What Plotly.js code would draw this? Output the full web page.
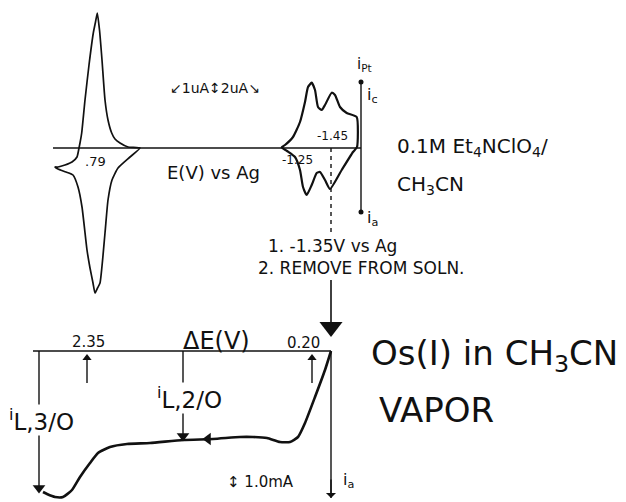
<!DOCTYPE html>
<html><head><meta charset="utf-8">
<script src="https://cdn.plot.ly/plotly-3.0.1.min.js"></script>
<style>html,body{margin:0;padding:0;background:#fff}#plot{width:626px;height:502px}</style>
</head><body><div id="plot"></div>
<script>
// Schematic drawn in a hidden coordinate frame (x: 0-626 right, y: 0-502 downward)
// Upper panel: cyclic voltammogram, E(V) vs Ag
const cvBaseX = [53, 361];
const cvBaseY = [148, 148];
// left wave (.79 V), one closed loop: cathodic branch then anodic branch
const cvLeftX = [140,128,120,115,111.7,108,105,102,99.5,97.3,95.5,93.3,89,85,81.7,80,79,77,72,65,58,55,
                 58,66,73,78,82,87,90,93,95,97.5,100,105,108,112,118,130,140];
const cvLeftY = [148,147,143,139,133,120,100,60,30,13,22,33,65,100,133,143,148,157,162,165,167,167,
                 169,172,175,187,207,250,268,283,293,288,283,233,200,180,168,157,148];
// right waves (-1.25 / -1.45 V)
const cvRightX = [281.7,285,293,300,305,308,311.7,315,318,321.7,325,331.7,335,340,346.7,356.7,357,
                  353,341.7,330,325,320,316.7,311.7,306.7,303,300,295,287,281.7];
const cvRightY = [147.3,145,137,122,102,87,82.7,90,107,110,105,92.7,95,107,113,117,147,
                  152,170,189,180,172,173,185,195,187,170,157,151,147.3];
// current axis i_Pt
const iPtX = [361, 361];
const iPtY = [82, 212];
// potential step marker (-1.35 V)
const dashX = [331, 331];
const dashY = [148, 236];
const stepX = [331, 331];
const stepY = [280, 322];

// Lower panel: linear sweep in vapor, ΔE(V)
const lsBaseX = [33, 331];
const lsBaseY = [351, 351];
const lsCurveX = [331,325,315,305,298,290,280,267,253,240,213,183,150,127,110,98,90,80,72,63,55,47,43];
const lsCurveY = [351,370,397,423,437,442,442,438,437,437,439,440,443,444,447,453,463,477,490,497,497,494,492];
const iaAxisX = [331, 331];
const iaAxisY = [351, 498];
// limiting-current arrows and potential markers
const iL3X = [39, 39];   const iL3Y = [351, 486];
const iL2X = [183, 183]; const iL2Y = [351, 434];
const mk235X = [87, 87];  const mk235Y = [383, 356];
const mk020X = [312, 312]; const mk020Y = [383, 356];

const blk = '#111';
function line(x, y, w, dash) {
  return {x, y, type:'scatter', mode:'lines', line:{color:blk, width:w, dash:dash||'solid', shape:'spline', smoothing:0.5},
          hoverinfo:'skip', showlegend:false};
}
function straight(x, y, w, dash) {
  return {x, y, type:'scatter', mode:'lines', line:{color:blk, width:w, dash:dash||'solid'}, hoverinfo:'skip', showlegend:false};
}
function head(x, y, sym, size) {
  return {x:[x], y:[y], type:'scatter', mode:'markers', marker:{symbol:sym, size, color:blk}, hoverinfo:'skip', showlegend:false};
}

const traces = [
  straight(cvBaseX, cvBaseY, 1.6),
  line(cvLeftX, cvLeftY, 1.7),
  line(cvRightX, cvRightY, 2.2),
  straight(iPtX, iPtY, 1.4),
  {x:iPtX, y:iPtY, type:'scatter', mode:'markers', marker:{size:5, color:blk}, hoverinfo:'skip', showlegend:false},
  straight(dashX, dashY, 1.4, '4px,4px'),
  straight(stepX, stepY, 1.6),
  head(331, 327, 'triangle-down', 20),
  straight(lsBaseX, lsBaseY, 1.6),
  line(lsCurveX, lsCurveY, 2.6),
  head(208, 439, 'triangle-left', 11),
  straight(iaAxisX, iaAxisY, 1.4),
  straight(iL3X, iL3Y, 1.4), head(39, 488, 'triangle-down', 11),
  straight(iL2X, iL2Y, 1.4), head(183, 436, 'triangle-down', 11),
  straight(mk235X, mk235Y, 1.4), head(87, 358, 'triangle-up', 8),
  straight(mk020X, mk020Y, 1.4), head(312, 358, 'triangle-up', 8)
];

const F = 'DejaVu Sans, sans-serif';
function txt(x, y, text, size, bg) {
  return {x, y, text, showarrow:false, xanchor:'left', yanchor:'middle', font:{family:F, size, color:blk},
          bgcolor: bg ? '#fff' : 'rgba(0,0,0,0)', borderpad:0};
}
const annotations = [
  txt(84, 161, '.79', 13),
  txt(166, 172, 'E(V) vs Ag', 18),
  txt(169, 88, '↙1uA↕2uA↘', 14),
  txt(281, 160, '-1.25', 12),
  txt(316, 136, '-1.45', 12),
  txt(356, 64, 'i<sub>Pt</sub>', 15),
  txt(366, 95, 'i<sub>c</sub>', 16),
  txt(366, 218, 'i<sub>a</sub>', 16),
  txt(396, 147, '0.1M Et<sub>4</sub>NClO<sub>4</sub>/', 20),
  txt(396, 185, 'CH<sub>3</sub>CN', 20),
  txt(267, 246, '1. -1.35V vs Ag', 17),
  txt(257, 268, '2. REMOVE FROM SOLN.', 17),
  txt(71, 342, '2.35', 15),
  txt(182, 341, 'ΔE(V)', 24),
  txt(286, 343, '0.20', 15),
  txt(8, 420, '<sup>i</sup>L,3/O', 23, true),
  txt(156, 398, '<sup>i</sup>L,2/O', 23, true),
  txt(226, 482, '↕ 1.0mA', 15),
  txt(342, 480, 'i<sub>a</sub>', 16),
  txt(370, 355, 'Os(I) in CH<sub>3</sub>CN', 34),
  txt(378, 410, 'VAPOR', 34),
  {x:331, y:498, ax:331, ay:478, axref:'x', ayref:'y', xref:'x', yref:'y', text:'', showarrow:true,
   arrowhead:1, arrowsize:1.2, arrowwidth:1.4, arrowcolor:blk}
];

const layout = {
  width:626, height:502, margin:{l:0, r:0, t:0, b:0},
  paper_bgcolor:'#fff', plot_bgcolor:'#fff',
  xaxis:{range:[0,626], visible:false, fixedrange:true},
  yaxis:{range:[502,0], visible:false, fixedrange:true},
  annotations, showlegend:false
};
Plotly.newPlot('plot', traces, layout, {staticPlot:true});
</script></body></html>
